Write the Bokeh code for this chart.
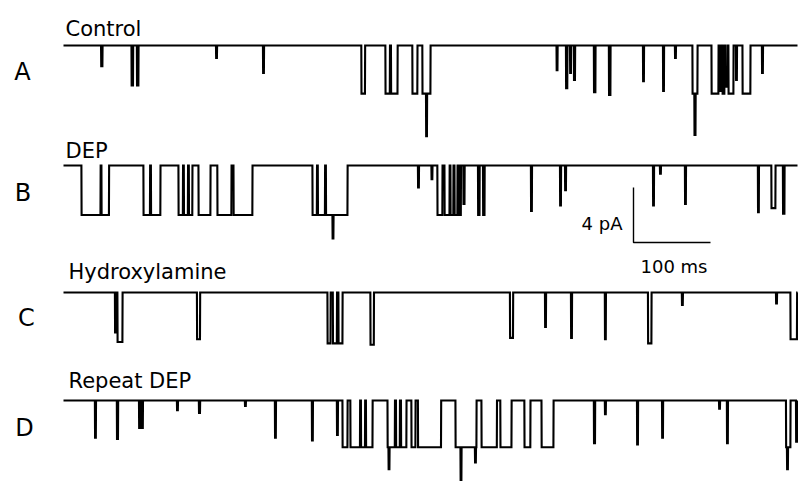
import numpy as np
from bokeh.plotting import figure
from bokeh.models import Range1d
from bokeh.core.properties import value
from bokeh.embed import file_html
from bokeh.resources import INLINE

# ---------------- data ----------------
trace_titles = ["Control", "DEP", "Hydroxylamine", "Repeat DEP"]
panel_letters = ["A", "B", "C", "D"]
baseline_pA = [0.0, -8.73, -17.96, -25.82]   # vertical offset of each sweep
sweep_ms = 953.2
scale_ms = 100
scale_pA = 4

# channel openings: start (ms), end (ms), amplitude (pA, downward)
A_start = [48.8, 88.3, 95.5, 198.1, 259.1, 387.0, 418.2, 425.3, 453.2, 466.2, 470.8,
           640.3, 652.6, 657.8, 663.0, 688.9, 708.4, 752.6, 778.6, 794.2, 816.9, 819.5,
           841.6, 852.0, 855.8, 859.7, 863.6, 873.4, 881.8, 907.1]
A_end = [50.6, 90.3, 97.4, 199.4, 260.4, 391.6, 424.0, 433.8, 459.7, 476.6, 472.1,
         641.6, 654.5, 659.1, 664.3, 690.9, 710.4, 753.9, 779.9, 795.5, 823.4, 820.8,
         850.6, 854.5, 858.4, 862.3, 870.1, 874.7, 892.2, 908.4]
A_amp = [1.5, 2.9, 2.9, 0.9, 2.0, 3.5, 3.5, 3.5, 3.5, 3.5, 6.6,
         1.8, 3.1, 2.0, 2.5, 3.4, 3.6, 2.6, 3.3, 0.9, 3.5, 6.5,
         3.5, 3.3, 3.5, 3.0, 3.5, 2.5, 3.5, 2.0]

B_start = [23.4, 49.4, 103.9, 113.6, 149.4, 156.5, 163.0, 175.3, 200.0, 220.8,
           323.4, 330.5, 340.9, 349.4, 460.4, 477.9, 485.7, 494.8, 502.6, 507.8,
           513.6, 519.5, 538.4, 544.9, 607.1, 644.8, 651.3, 765.6, 774.7, 807.1,
           901.9, 919.5, 934.4]
B_end = [48.1, 59.1, 112.3, 126.0, 155.2, 161.7, 167.5, 190.9, 218.2, 245.5,
         329.2, 339.6, 368.8, 350.6, 461.7, 479.2, 492.2, 501.3, 506.5, 511.7,
         516.2, 520.8, 540.3, 546.8, 608.4, 646.1, 652.6, 766.9, 776.0, 808.4,
         903.2, 924.7, 936.4]
B_amp = [3.6, 3.6, 3.6, 3.6, 3.6, 3.6, 3.6, 3.6, 3.6, 3.6,
         3.6, 3.6, 3.6, 5.3, 1.6, 1.0, 3.6, 3.6, 3.6, 3.6,
         3.6, 2.8, 3.6, 3.6, 3.3, 2.9, 1.8, 2.9, 0.6, 2.8,
         3.4, 3.1, 3.5]

C_start = [66.9, 70.1, 173.4, 342.9, 350.0, 357.1, 398.7, 579.9, 625.3, 659.1,
           703.2, 759.1, 803.2, 925.3, 944.2]
C_end = [68.2, 76.6, 177.3, 346.8, 355.2, 362.3, 403.2, 583.8, 626.6, 660.4,
         704.5, 763.6, 804.5, 926.6, 952.6]
C_amp = [2.9, 3.6, 3.4, 3.7, 3.7, 3.7, 3.8, 3.3, 2.5, 3.3,
         3.4, 3.7, 0.9, 0.8, 3.4]

D_start = [40.9, 69.5, 98.1, 101.9, 147.4, 176.0, 235.7, 274.7, 322.7, 355.2,
           362.3, 372.7, 386.4, 392.9, 420.8, 431.8, 438.3, 422.1, 451.9, 460.4,
           509.1, 515.6, 534.4, 542.9, 567.5, 598.7, 620.8, 689.0, 703.2, 744.8,
           777.3, 851.3, 861.7, 938.3, 939.6, 951.3]
D_end = [42.2, 70.8, 99.4, 103.2, 148.7, 177.3, 237.0, 276.0, 324.0, 356.5,
         368.8, 385.1, 391.6, 401.3, 430.5, 437.0, 445.5, 423.4, 457.1, 490.3,
         536.4, 516.9, 535.7, 563.0, 581.8, 606.5, 636.4, 690.3, 704.5, 746.1,
         778.6, 852.6, 863.0, 944.2, 940.9, 953.2]
D_amp = [2.7, 2.8, 2.0, 2.0, 0.7, 0.9, 0.4, 2.7, 2.9, 2.5,
         3.4, 3.4, 3.4, 3.4, 3.4, 3.4, 3.4, 5.0, 3.4, 3.4,
         3.4, 5.8, 4.5, 3.4, 3.4, 3.4, 3.4, 3.1, 1.0, 3.2,
         2.7, 0.6, 3.1, 3.4, 5.0, 3.0]

events = [(A_start, A_end, A_amp), (B_start, B_end, B_amp),
          (C_start, C_end, C_amp), (D_start, D_end, D_amp)]

# ---------------- layout ----------------
W, H = 798, 481
PX_PER_MS = 0.77
PX_PER_PA = 13.75
X_ORIGIN_PX = 63
Y_ORIGIN_PX = 45


def px2x(px):
    return (px - X_ORIGIN_PX) / PX_PER_MS


def px2y(py):
    return -(py - Y_ORIGIN_PX) / PX_PER_PA


p = figure(width=W, height=H, output_backend="svg", toolbar_location=None,
           x_axis_type=None, y_axis_type=None, min_border=0,
           x_range=Range1d(px2x(0), px2x(W)), y_range=Range1d(px2y(H), px2y(0)))
p.grid.visible = False
p.outline_line_color = None
p.background_fill_color = "white"
p.border_fill_color = "white"

dt = 0.25
t = np.arange(0.0, sweep_ms + dt / 2, dt)
for base, (st, en, am) in zip(baseline_pA, events):
    depth = np.zeros_like(t)
    for s, e, a in zip(st, en, am):
        m = (t >= s) & (t < e)
        depth[m] = np.maximum(depth[m], a)
    p.line(t, base - depth, line_color="black", line_width=2.1, line_join="miter")

FONT = value("DejaVu Sans")

title_px = [(65, 28), (65, 150), (68, 271), (68, 380)]
letter_px = [(22, 71), (22.5, 192), (26, 317), (24, 427)]
p.text(x=[px2x(a) for a, b in title_px], y=[px2y(b) for a, b in title_px], text=trace_titles,
       text_font=FONT, text_font_size="21px", text_color="black",
       text_align="left", text_baseline="alphabetic")
p.text(x=[px2x(a) for a, b in letter_px], y=[px2y(b) for a, b in letter_px], text=panel_letters,
       text_font=FONT, text_font_size="24px", text_color="black",
       text_align="center", text_baseline="alphabetic")

# scale bar
bar_x = px2x(633)
bar_y = px2y(242)
p.line([bar_x, bar_x, bar_x + scale_ms], [bar_y + scale_pA, bar_y, bar_y],
       line_color="black", line_width=1.4)
p.text(x=[px2x(622)], y=[px2y(223)], text=[f"{scale_pA} pA"], text_font=FONT,
       text_font_size="18px", text_align="right", text_baseline="alphabetic", text_color="black")
p.text(x=[px2x(640)], y=[px2y(266)], text=[f"{scale_ms} ms"], text_font=FONT,
       text_font_size="18px", text_align="left", text_baseline="alphabetic", text_color="black")

open("out.html", "w").write(file_html(p, INLINE))
